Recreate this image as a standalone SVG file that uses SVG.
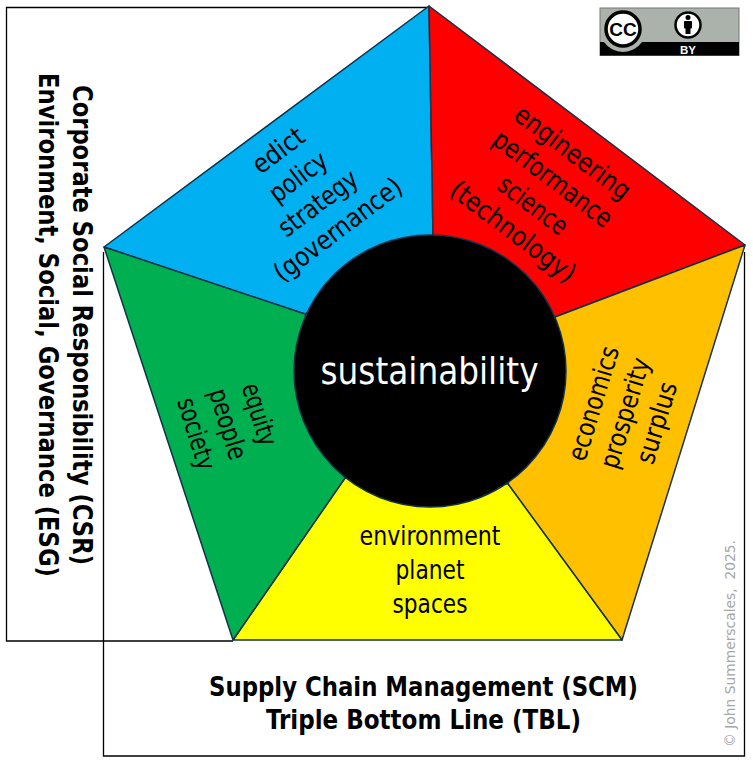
<svg xmlns="http://www.w3.org/2000/svg" width="753" height="766" viewBox="0 0 753 766">
<style>
.f{font-family:"DejaVu Sans Condensed","DejaVu Sans",sans-serif;font-size:26.5px;fill:#000;text-anchor:middle}
.b{font-family:"DejaVu Sans Condensed","DejaVu Sans",sans-serif;font-size:27px;font-weight:bold;fill:#000;text-anchor:middle}
.s{stroke:#12324a;stroke-width:1.5;stroke-linejoin:round}
.r{fill:none;stroke:#000;stroke-width:1.3}
</style>
<rect width="753" height="766" fill="#fff"/>
<g id="connectors">
<path class="r" d="M429 7.500H6.500V641H233"/>
<path class="r" d="M103.500 252V756H744.500V252"/>
</g>
<g id="governance"><path class="s" fill="#00b0f0" d="M429 6L104 247L305 314L433 235Z"/>
<g transform="rotate(-37 308 190)"><text class="f" x="308" y="149.500" textLength="58" lengthAdjust="spacingAndGlyphs">edict</text><text class="f" x="308" y="182.500" textLength="66" lengthAdjust="spacingAndGlyphs">policy</text><text class="f" x="308" y="215.500" textLength="92" lengthAdjust="spacingAndGlyphs">strategy</text><text class="f" x="308" y="248.500" textLength="153" lengthAdjust="spacingAndGlyphs">(governance)</text></g></g>
<g id="technology"><path class="s" fill="#f00" d="M429 6L745 245L555 317L433 235Z"/>
<g transform="rotate(37 543 192)"><text class="f" x="543" y="151.500" textLength="138" lengthAdjust="spacingAndGlyphs">engineering</text><text class="f" x="543" y="184.500" textLength="142" lengthAdjust="spacingAndGlyphs">performance</text><text class="f" x="543" y="217.500" textLength="80" lengthAdjust="spacingAndGlyphs">science</text><text class="f" x="543" y="250.500" textLength="150" lengthAdjust="spacingAndGlyphs">(technology)</text></g></g>
<g id="economics"><path class="s" fill="#ffc000" d="M745 245L622 640L508 484L555 317Z"/>
<g transform="rotate(-73 625 413)"><text class="f" x="625" y="389" textLength="118" lengthAdjust="spacingAndGlyphs">economics</text><text class="f" x="625" y="422" textLength="114" lengthAdjust="spacingAndGlyphs">prosperity</text><text class="f" x="625" y="455" textLength="84" lengthAdjust="spacingAndGlyphs">surplus</text></g></g>
<g id="environment"><path class="s" fill="#ff0" d="M233 640H622L508 484L345 478Z"/>
<text class="f" x="430" y="545" textLength="141" lengthAdjust="spacingAndGlyphs">environment</text><text class="f" x="430" y="579" textLength="69" lengthAdjust="spacingAndGlyphs">planet</text><text class="f" x="430" y="612.500" textLength="75" lengthAdjust="spacingAndGlyphs">spaces</text></g>
<g id="equity"><path class="s" fill="#00b050" d="M104 247L233 640L345 478L305 314Z"/>
<g transform="rotate(73 228 424)"><text class="f" x="228" y="400" textLength="64" lengthAdjust="spacingAndGlyphs">equity</text><text class="f" x="228" y="433" textLength="73" lengthAdjust="spacingAndGlyphs">people</text><text class="f" x="228" y="466" textLength="74" lengthAdjust="spacingAndGlyphs">society</text></g></g>
<g id="sustainability"><circle cx="430" cy="371" r="136" fill="#000" stroke="#12324a" stroke-width="1.500"/>
<text x="429.500" y="384" font-family="'DejaVu Sans Condensed','DejaVu Sans',sans-serif" font-size="38" fill="#fff" text-anchor="middle" textLength="218" lengthAdjust="spacingAndGlyphs">sustainability</text></g>
<g id="csr-esg">
<text class="b" transform="translate(73 325) rotate(90)" textLength="480" lengthAdjust="spacingAndGlyphs">Corporate Social Responsibility (CSR)</text>
<text class="b" transform="translate(39 325) rotate(90)" textLength="504" lengthAdjust="spacingAndGlyphs">Environment, Social, Governance (ESG)</text></g>
<g id="scm-tbl"><text class="b" x="423.500" y="696" textLength="429" lengthAdjust="spacingAndGlyphs">Supply Chain Management (SCM)</text><text class="b" x="423.500" y="729" textLength="315" lengthAdjust="spacingAndGlyphs">Triple Bottom Line (TBL)</text></g>
<text id="copyright" transform="translate(735 747) rotate(-90)" font-family="'DejaVu Sans',sans-serif" font-size="14" fill="#a6a6a6" textLength="207" lengthAdjust="spacingAndGlyphs">© John Summerscales,&#160; 2025.</text>
<g id="cc-by">
<rect x="600" y="8" width="139" height="47.500" fill="#aab2ab" stroke="#777" stroke-width="1"/>
<rect x="600" y="42" width="139" height="13.500" fill="#000"/>
<path d="M604 42A23 23 0 0 0 642 42Z" fill="#aab2ab"/>
<circle cx="623" cy="29" r="17" fill="#fff" stroke="#000" stroke-width="3.500"/>
<text x="623" y="36" font-family="'Liberation Sans',sans-serif" font-weight="bold" font-size="19" text-anchor="middle">CC</text>
<circle cx="688" cy="25" r="12.500" fill="#fff" stroke="#000" stroke-width="2.500"/>
<circle cx="688" cy="17.500" r="2.500" fill="#000"/><rect x="684" y="21" width="8" height="7.500" rx="1" fill="#000"/><rect x="685.500" y="26" width="5" height="8" fill="#000"/>
<text x="688" y="54" font-family="'Liberation Sans',sans-serif" font-weight="bold" font-size="11.500" fill="#fff" text-anchor="middle">BY</text>
</g>
</svg>
